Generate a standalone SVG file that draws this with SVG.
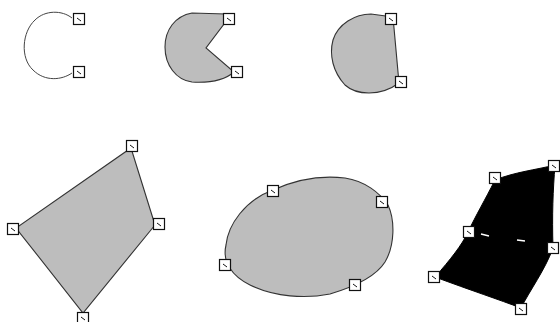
<svg xmlns="http://www.w3.org/2000/svg" width="560" height="322" viewBox="0 0 560 322">
<style>
.sh{fill:#bdbdbd;stroke:#333;stroke-width:1.1}
.open{fill:none;stroke:#444;stroke-width:1}
.blk{fill:#000;stroke:#000;stroke-width:1}
.h{fill:#fff;stroke:#111;stroke-width:1.2}
.tk{stroke:#111;stroke-width:1;fill:none}
.wd{stroke:#fff;stroke-width:1.3;fill:none}
</style>
<defs>
<g id="hnd"><rect class="h" x="-5.5" y="-5.5" width="11" height="11"/><path class="tk" d="M-2,-1 L2,2"/></g>
</defs>
<rect width="560" height="322" fill="#fff"/>
<g id="arc">
<path class="open" d="M72,18 C62,10 45,10 35,20 C22,32 20,58 33,70 C45,82 62,80 72,73"/>
<use href="#hnd" x="79" y="19"/>
<use href="#hnd" x="79" y="72"/>
</g>
<g id="pie">
<path class="sh" d="M226,14 L192,13 C175,16 165,30 165,47 C165,65 176,80 192,82 C210,83 225,80 234,72 L206,48 L227,20 Z"/>
<use href="#hnd" x="229" y="19"/>
<use href="#hnd" x="237" y="72"/>
</g>
<g id="chord">
<path class="sh" d="M393,17 L371,14 C355,14 338,24 333,40 C329,55 333,72 345,85 C356,95 380,97 399,83 Z"/>
<use href="#hnd" x="391" y="19"/>
<use href="#hnd" x="401" y="82"/>
</g>
<g id="polygon">
<path class="sh" d="M131,148 L155,225 L83,313 L16,228 Z"/>
<use href="#hnd" x="132" y="146"/>
<use href="#hnd" x="159" y="224"/>
<use href="#hnd" x="13" y="229"/>
<use href="#hnd" x="83" y="318"/>
</g>
<g id="blob">
<path class="sh" d="M273,190 C295,180 320,175 345,178 C365,181 380,193 388,205 C395,220 395,245 385,262 C375,278 350,288 330,294 C305,299 275,297 250,285 C232,276 222,262 226,245 C228,225 245,200 273,190 Z"/>
<use href="#hnd" x="273" y="191"/>
<use href="#hnd" x="382" y="202"/>
<use href="#hnd" x="225" y="265"/>
<use href="#hnd" x="355" y="285"/>
</g>
<g id="blackshape">
<path class="blk" d="M495,180 C515,172 535,170 555,165 C553,190 552,215 553,248 C545,270 530,290 521,308 C500,300 470,290 435,277 C450,260 462,245 468,232 C476,215 485,200 495,180 Z"/>
<path class="wd" d="M481,234 L489,236 M517,240 L525,241"/>
<use href="#hnd" x="495" y="178"/>
<use href="#hnd" x="554" y="166"/>
<use href="#hnd" x="469" y="232"/>
<use href="#hnd" x="553" y="248"/>
<use href="#hnd" x="434" y="277"/>
<use href="#hnd" x="521" y="309"/>
</g>
</svg>
